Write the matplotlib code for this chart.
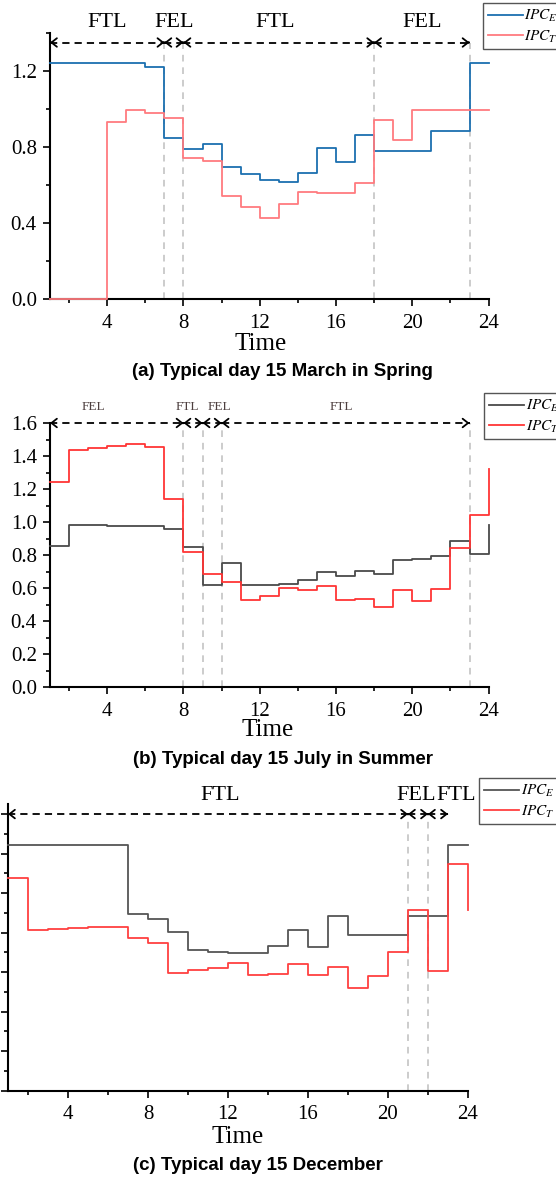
import matplotlib.pyplot as plt
from matplotlib.ticker import MultipleLocator
from matplotlib.lines import Line2D

plt.rcParams['font.family'] = ['Liberation Serif', 'DejaVu Serif']
plt.rcParams['mathtext.fontset'] = 'stix'

# Hours 1..24 (step value holds from hour h to h+1)
hours = list(range(1, 25))

# (a) 15 March, spring
ipc_e_mar = [1.24, 1.24, 1.24, 1.24, 1.24, 1.22, 0.846, 0.788, 0.816, 0.696, 0.658, 0.625,
             0.618, 0.665, 0.797, 0.719, 0.863, 0.781, 0.781, 0.781, 0.884, 0.884, 1.24, 1.24]
ipc_t_mar = [0.0, 0.0, 0.0, 0.93, 0.995, 0.977, 0.954, 0.744, 0.726, 0.542, 0.486, 0.426,
             0.5, 0.563, 0.556, 0.56, 0.61, 0.944, 0.837, 0.995, 0.995, 0.995, 0.995, 0.995]
modes_mar = ['FTL', 'FEL', 'FTL', 'FEL']
bounds_mar = [1, 7, 8, 18, 23]
vlines_mar = [7, 8, 18, 23]

# (b) 15 July, summer
ipc_e_jul = [0.856, 0.98, 0.98, 0.978, 0.978, 0.978, 0.959, 0.85, 0.618, 0.753, 0.616, 0.616,
             0.622, 0.65, 0.697, 0.673, 0.705, 0.685, 0.77, 0.774, 0.794, 0.883, 0.808, 0.982]
ipc_t_jul = [1.245, 1.434, 1.448, 1.458, 1.472, 1.454, 1.137, 0.816, 0.687, 0.634, 0.529, 0.55,
             0.6, 0.586, 0.61, 0.527, 0.535, 0.483, 0.586, 0.523, 0.596, 0.844, 1.04, 1.319]
modes_jul = ['FEL', 'FTL', 'FEL', 'FTL']
bounds_jul = [1, 8, 9, 10, 23]
vlines_jul = [8, 9, 10, 23]

# (c) 15 December
ipc_e_dec = [1.243, 1.243, 1.243, 1.243, 1.243, 1.243, 0.892, 0.87, 0.804, 0.712, 0.702, 0.697,
             0.697, 0.73, 0.814, 0.726, 0.885, 0.789, 0.789, 0.789, 0.886, 0.886, 1.243, 1.243]
ipc_t_dec = [1.075, 0.812, 0.82, 0.825, 0.827, 0.828, 0.772, 0.745, 0.597, 0.609, 0.623, 0.648,
             0.587, 0.589, 0.643, 0.585, 0.628, 0.522, 0.58, 0.7, 0.913, 0.604, 1.149, 0.914]
modes_dec = ['FTL', 'FEL', 'FTL']
bounds_dec = [1, 21, 22, 23]
vlines_dec = [21, 22]


def draw_modes(ax, bounds, modes, vlines, label_xs, arrow_y, label_y, fs, tcolor):
    # grey dashed separators
    for b in vlines:
        ax.plot([b, b], [0, arrow_y], color='#c4c4c4', lw=1.2, dashes=(4, 3.5), clip_on=False)
    # dashed double arrows between mode changes
    head = dict(arrowstyle='->,head_length=0.28,head_width=0.22', color='k', lw=1.3,
                shrinkA=0, shrinkB=0, mutation_scale=14)
    for i in range(len(modes)):
        x0, x1 = bounds[i], bounds[i + 1]
        ax.plot([x0, x1], [arrow_y, arrow_y], color='k', lw=1.3, dashes=(4, 2.8), clip_on=False)
        ax.annotate('', xy=(x0, arrow_y), xytext=(x0 + 0.05, arrow_y), arrowprops=head,
                    annotation_clip=False)
        ax.annotate('', xy=(x1, arrow_y), xytext=(x1 - 0.05, arrow_y), arrowprops=head,
                    annotation_clip=False)
        ax.text(label_xs[i], label_y, modes[i], ha='center', va='center', fontsize=fs,
                color=tcolor, clip_on=False)


def style_axis(ax, ylim, ymajor, yminor, ylabels=True):
    ax.set_xlim(1, 24)
    ax.set_ylim(*ylim)
    ax.xaxis.set_major_locator(MultipleLocator(4))
    ax.xaxis.set_minor_locator(MultipleLocator(2))
    ax.yaxis.set_major_locator(MultipleLocator(ymajor))
    ax.yaxis.set_minor_locator(MultipleLocator(yminor))
    ax.spines['top'].set_visible(False)
    ax.spines['right'].set_visible(False)
    for s in ['left', 'bottom']:
        ax.spines[s].set_linewidth(1.5)
    ax.tick_params(which='major', direction='out', length=5, width=1.2, labelsize=15)
    ax.tick_params(which='minor', direction='out', length=3, width=1.2)
    ax.tick_params(axis='x', which='major', pad=5.5)
    ax.tick_params(axis='y', which='major', pad=4.5, labelleft=ylabels)
    ax.set_xticks([4, 8, 12, 16, 20, 24])
    ax.yaxis.set_major_formatter(plt.FuncFormatter(lambda v, p: f'{v:.1f}'))


def add_legend(fig, ax, c_e, c_t, x, y):
    handles = [Line2D([0], [0], color=c_e, lw=1.3), Line2D([0], [0], color=c_t, lw=1.3)]
    leg = ax.legend(handles, [r'$IPC_E$', r'$IPC_T$'], loc='upper left',
                    bbox_to_anchor=(x / 556, 1 - y / 1177), bbox_transform=fig.transFigure,
                    fancybox=False, framealpha=1, edgecolor='#555555', fontsize=11,
                    handlelength=2.3, handletextpad=0.1, borderpad=0.3, borderaxespad=0,
                    labelspacing=0.3)
    leg.get_frame().set_linewidth(1.0)
    leg.set_zorder(5)


fig = plt.figure(figsize=(5.56, 11.77), dpi=100)
sans = ['Liberation Sans', 'DejaVu Sans']

# ---- (a) ----
ax1 = fig.add_axes([50 / 556, 1 - 299 / 1177, 438.6 / 556, 266 / 1177])
blue, pink = '#1b6fb0', '#ff7b7f'
ax1.plot(hours, ipc_e_mar, drawstyle='steps-post', color=blue, lw=1.3, zorder=3, clip_on=False)
ax1.plot(hours, ipc_t_mar, drawstyle='steps-post', color=pink, lw=1.3, zorder=3, clip_on=False)
style_axis(ax1, (0, 1.4), 0.4, 0.2)
draw_modes(ax1, bounds_mar, modes_mar, vlines_mar, [4.0, 7.5, 12.8, 20.5], 1.35, 1.455, 16, 'k')
add_legend(fig, ax1, blue, pink, 483, 3.3)
ax1.set_xlabel('Time', fontsize=18)
ax1.xaxis.label.set_va('center')
ax1.xaxis.set_label_coords(0.48, -0.168)
fig.text(282 / 556, 1 - 372 / 1177, '(a) Typical day 15 March in Spring', ha='center',
         va='center', fontsize=13.5, fontweight='bold', family=sans)

# ---- (b) ----
ax2 = fig.add_axes([50 / 556, 1 - 687 / 1177, 438.6 / 556, 264 / 1177])
grey, red = '#4a4a4a', '#ff3535'
ax2.plot(hours, ipc_e_jul, drawstyle='steps-post', color=grey, lw=1.3, zorder=3, clip_on=False)
ax2.plot(hours, ipc_t_jul, drawstyle='steps-post', color=red, lw=1.3, zorder=3, clip_on=False)
style_axis(ax2, (0, 1.6), 0.2, 0.1)
draw_modes(ax2, bounds_jul, modes_jul, vlines_jul, [3.27, 8.18, 9.86, 16.27], 1.6, 1.70, 9.5,
           '#4d3f3f')
add_legend(fig, ax2, grey, red, 484.3, 393.3)
ax2.set_xlabel('Time', fontsize=18)
ax2.xaxis.label.set_va('center')
ax2.xaxis.set_label_coords(0.497, -0.162)
fig.text(283 / 556, 1 - 760 / 1177, '(b) Typical day 15 July in Summer', ha='center',
         va='center', fontsize=13.5, fontweight='bold', family=sans)

# ---- (c) ----
ax3 = fig.add_axes([8 / 556, 1 - 1090.7 / 1177, 460 / 556, 286.5 / 1177])
grey3, red3 = '#555555', '#ff4040'
ax3.plot(hours, ipc_e_dec, drawstyle='steps-post', color=grey3, lw=1.3, zorder=3, clip_on=False)
ax3.plot(hours, ipc_t_dec, drawstyle='steps-post', color=red3, lw=1.3, zorder=3, clip_on=False)
style_axis(ax3, (0, 1.45), 0.2, 0.1, ylabels=False)
draw_modes(ax3, bounds_dec, modes_dec, vlines_dec, [11.6, 21.4, 23.4], 1.4, 1.495, 16, 'k')
add_legend(fig, ax3, grey3, red3, 479.3, 778.3)
ax3.set_xlabel('Time', fontsize=18)
ax3.xaxis.label.set_va('center')
ax3.xaxis.set_label_coords(0.5, -0.16)
fig.text(258 / 556, 1 - 1165.7 / 1177, '(c) Typical day 15 December', ha='center',
         va='center', fontsize=13.5, fontweight='bold', family=sans)

fig.savefig('out.png', dpi=100)
